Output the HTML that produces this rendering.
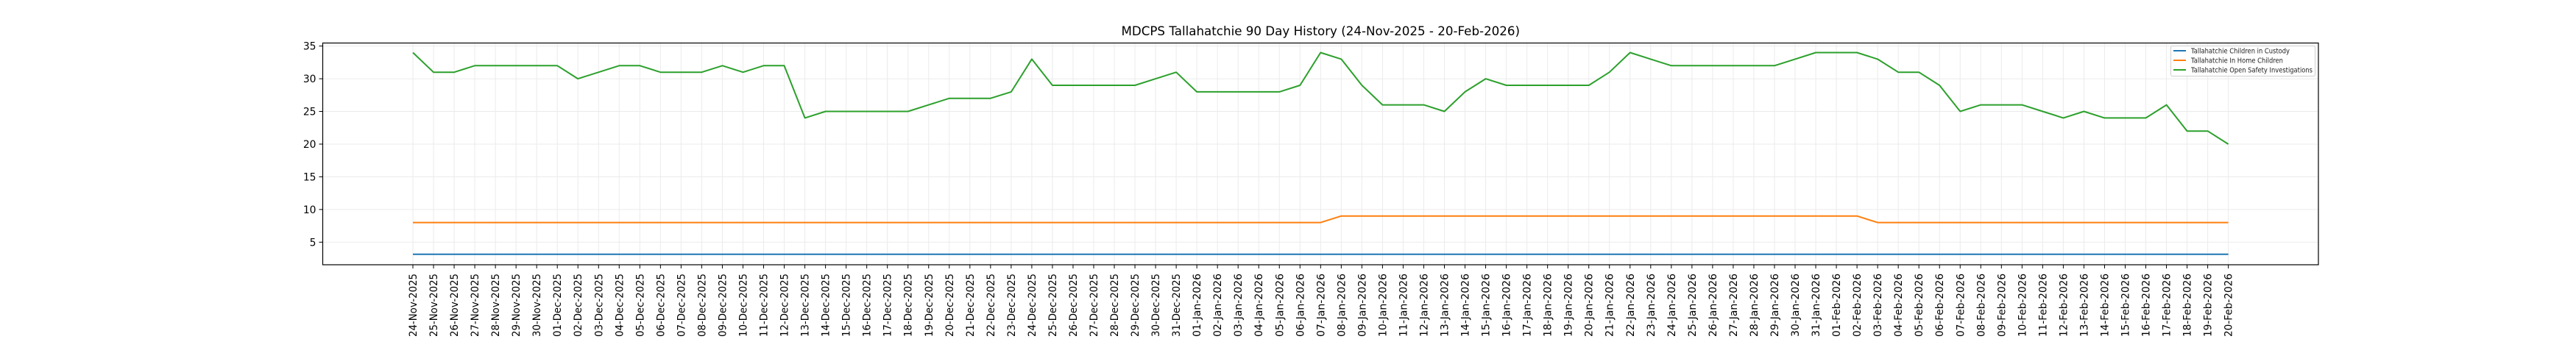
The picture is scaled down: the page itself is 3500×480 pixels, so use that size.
<!DOCTYPE html>
<html><head><meta charset="utf-8"><style>
html,body{margin:0;padding:0;background:#fff;}
svg{display:block;font-family:"DejaVu Sans","Liberation Sans",sans-serif;}
</style></head><body>
<svg id="c" width="3500" height="480" xmlns="http://www.w3.org/2000/svg"></svg>
<script>
const svg=document.getElementById('c');
const L=438.5,R=3150,T=58.5,B=360;
const x0=561,dx=28.03;
const yv=v=>329.3-(v-5)*8.889;
let s='';
const green=[34,31,31,32,32,32,32,32,30,31,32,32,31,31,31,32,31,32,32,24,25,25,25,25,25,26,27,27,27,28,33,29,29,29,29,29,30,31,28,28,28,28,28,29,34,33,29,26,26,26,25,28,30,29,29,29,29,29,31,34,33,32,32,32,32,32,32,33,34,34,34,33,31,31,29,25,26,26,26,25,24,25,24,24,24,26,22,22,20];
const orange=green.map((_,i)=>(i>=45&&i<=70)?9:8);
function lab(i){let d=new Date(Date.UTC(2025,10,24+i));const m=['Jan','Feb','Mar','Apr','May','Jun','Jul','Aug','Sep','Oct','Nov','Dec'][d.getUTCMonth()];return String(d.getUTCDate()).padStart(2,'0')+'-'+m+'-'+d.getUTCFullYear();}
for(let v=5;v<=35;v+=5){const y=yv(v);s+=`<line x1="${L}" x2="${R}" y1="${y}" y2="${y}" stroke="#ebebeb" stroke-width="1"/>`;
s+=`<line x1="${L-5}" x2="${L}" y1="${y}" y2="${y}" stroke="#000" stroke-width="1"/>`;
s+=`<text x="${L-9}" y="${y+5}" font-size="13.9" text-anchor="end" fill="#000">${v}</text>`;}
for(let i=0;i<89;i++){const x=x0+dx*i;s+=`<line x1="${x}" x2="${x}" y1="${T}" y2="${B}" stroke="#ebebeb" stroke-width="1"/>`;
s+=`<line x1="${x}" x2="${x}" y1="${B}" y2="${B+5}" stroke="#000" stroke-width="1"/>`;
s+=`<text transform="translate(${x+5},${B+12}) rotate(-90)" font-size="13.9" text-anchor="end" fill="#000" textLength="86" lengthAdjust="spacingAndGlyphs">${lab(i)}</text>`;}
const pl=(arr,c)=>`<polyline fill="none" stroke="${c}" stroke-width="2" stroke-linejoin="round" points="${arr.map((v,i)=>(x0+dx*i).toFixed(1)+','+yv(v).toFixed(1)).join(' ')}"/>`;
s+=`<line x1="${x0}" x2="${x0+dx*88}" y1="345.7" y2="345.7" stroke="#1f77b4" stroke-width="2"/>`;
s+=pl(orange,'#ff7f0e');
s+=pl(green,'#2ca02c');
s+=`<rect x="${L}" y="${T}" width="${R-L}" height="${B-T}" fill="none" stroke="#000" stroke-width="1.2"/>`;
s+=`<text x="${(L+R)/2}" y="48" font-size="16.7" text-anchor="middle" fill="#000">MDCPS Tallahatchie 90 Day History (24-Nov-2025 - 20-Feb-2026)</text>`;
s+=`<rect x="2949.5" y="62.5" width="196" height="41" rx="2" fill="#fff" stroke="#d0d0d0" stroke-width="1"/>`;
const leg=[['#1f77b4','Tallahatchie Children in Custody',134],['#ff7f0e','Tallahatchie In Home Children',125],['#2ca02c','Tallahatchie Open Safety Investigations',165]];
leg.forEach((l,k)=>{const y=69+k*13;s+=`<line x1="2953" x2="2970" y1="${y}" y2="${y}" stroke="${l[0]}" stroke-width="2"/><text x="2977" y="${y+3.5}" font-size="9.3" fill="#222" textLength="${l[2]}" lengthAdjust="spacingAndGlyphs">${l[1]}</text>`;});
svg.innerHTML=s;
</script>
</body></html>
